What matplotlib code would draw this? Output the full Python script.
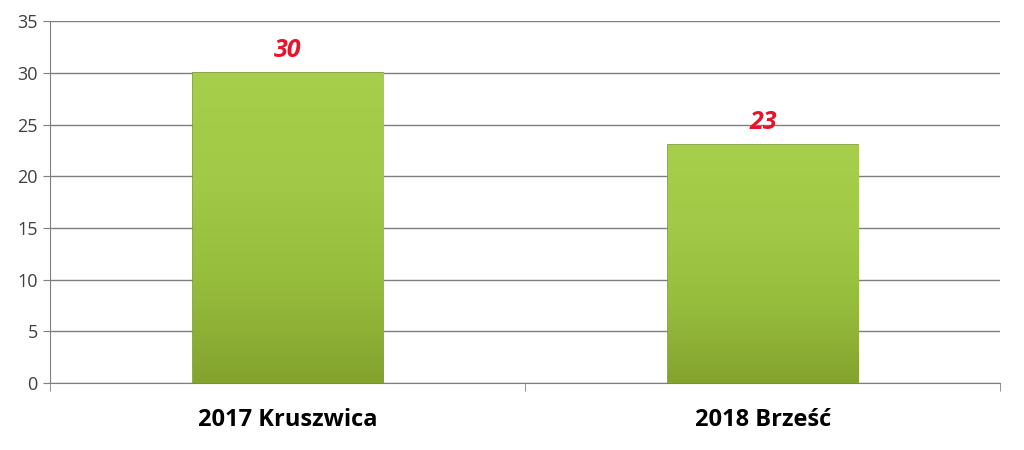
import matplotlib.pyplot as plt
import numpy as np
from matplotlib.colors import LinearSegmentedColormap

categories = ['2017 Kruszwica', '2018 Brześć']
values = [30, 23]
yticks = [0, 5, 10, 15, 20, 25, 30, 35]

plt.rcParams['font.family'] = ['Open Sans', 'DejaVu Sans']

fig = plt.figure(figsize=(10.24, 4.5), dpi=100)
ax = fig.add_axes([0.049, 0.149, 0.928, 0.804])

x = np.arange(len(categories))
bars = ax.bar(x, values, width=0.4, color='#9cc43e', edgecolor='#7d9a2c', linewidth=1.2, zorder=3)

# green gradient inside each bar
cmap = LinearSegmentedColormap.from_list('g', ['#84a32e', '#97bd3d', '#a2c947', '#a8cf4b'])
grad = np.linspace(0, 1, 256).reshape(-1, 1)
for b in bars:
    x0, y0 = b.get_x(), b.get_y()
    im = ax.imshow(grad, extent=[x0, x0 + b.get_width(), y0, y0 + b.get_height()],
                   cmap=cmap, origin='lower', aspect='auto', zorder=3.5)
    im.set_clip_path(b)

for xi, v in zip(x, values):
    ax.text(xi, v + 2.2, str(v), ha='center', va='center', color='#e8142c',
            fontsize=18, fontweight='bold', fontstyle='italic', zorder=5)

ax.set_xlim(-0.5, len(categories) - 0.5)
ax.set_ylim(0, 35)
ax.set_yticks(yticks)
ax.set_yticklabels([str(t) for t in yticks], color='#404040', fontsize=13)
ax.yaxis.grid(True, color='#7f7f7f', linewidth=1.0, zorder=0)
ax.set_axisbelow(True)

ax.set_xticks(x)
ax.set_xticklabels(categories, fontsize=17, fontweight='bold', color='#000000')
ax.set_xticks(np.arange(-0.5, len(categories)), minor=True)
ax.tick_params(axis='x', which='major', length=0, pad=18)
ax.tick_params(axis='x', which='minor', length=6, color='#7f7f7f', direction='out')
ax.tick_params(axis='y', length=5, color='#7f7f7f', direction='out', pad=4)

for s in ['top', 'right']:
    ax.spines[s].set_visible(False)
ax.spines['left'].set_color('#7f7f7f')
ax.spines['bottom'].set_color('#7f7f7f')

fig.savefig('out.png', dpi=100)
